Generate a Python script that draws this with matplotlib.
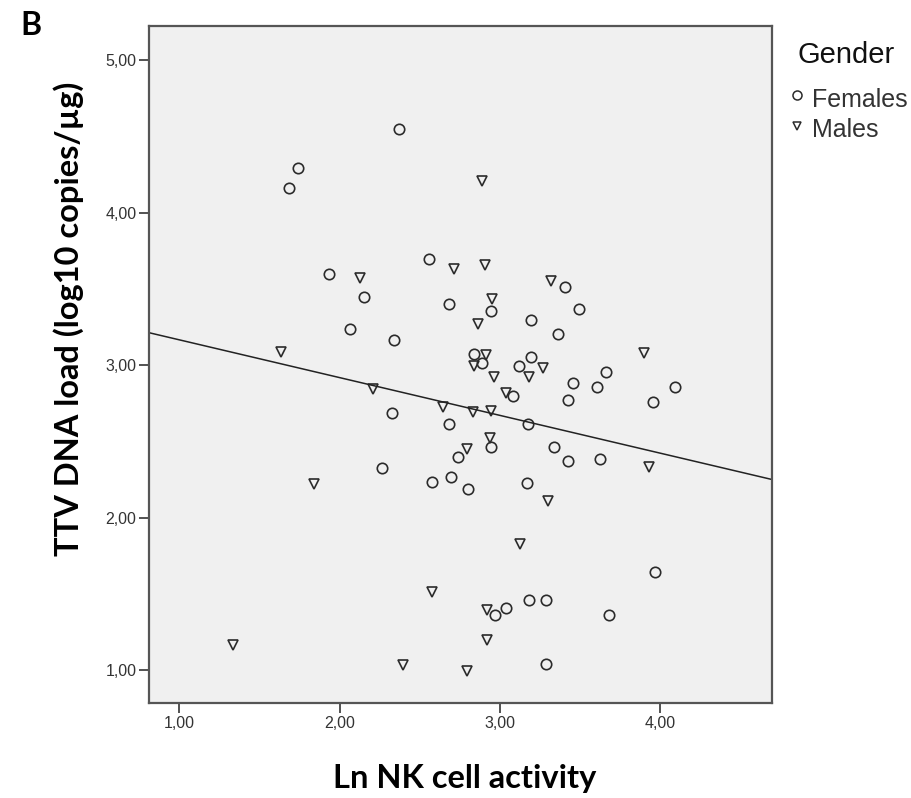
import matplotlib
matplotlib.use("Agg")
import matplotlib.pyplot as plt
from matplotlib.lines import Line2D

# Ln NK cell activity vs TTV DNA load
female_x = [2.373, 1.743, 1.687, 1.933, 2.153, 2.559, 2.684, 2.066, 2.342, 3.408,
            2.946, 3.497, 3.195, 3.366, 2.836, 2.888, 3.122, 3.195, 3.665, 4.094,
            3.459, 3.605, 3.085, 3.424, 3.959, 2.326, 2.682, 3.175, 2.946, 2.742,
            3.339, 3.428, 3.628, 2.263, 2.577, 2.694, 2.804, 3.169, 3.970, 3.181,
            3.289, 3.039, 2.969, 3.684, 3.287]
female_y = [4.548, 4.294, 4.163, 3.597, 3.449, 3.693, 3.400, 3.236, 3.166, 3.514,
            3.356, 3.365, 3.295, 3.201, 3.072, 3.015, 2.993, 3.050, 2.954, 2.856,
            2.880, 2.858, 2.797, 2.770, 2.755, 2.683, 2.611, 2.611, 2.464, 2.399,
            2.460, 2.372, 2.381, 2.323, 2.233, 2.268, 2.189, 2.224, 1.641, 1.459,
            1.459, 1.409, 1.361, 1.361, 1.037]

male_x = [2.128, 2.715, 2.908, 2.891, 3.320, 2.950, 2.867, 1.633, 2.914, 2.836,
          3.268, 3.903, 2.966, 3.185, 3.039, 2.207, 2.646, 2.831, 2.945, 2.940,
          2.794, 3.930, 1.841, 3.303, 3.129, 2.575, 2.919, 2.923, 1.337, 2.393,
          2.794]
male_y = [3.569, 3.633, 3.656, 4.207, 3.554, 3.434, 3.267, 3.083, 3.066, 2.993,
          2.978, 3.081, 2.923, 2.919, 2.818, 2.840, 2.725, 2.692, 2.700, 2.519,
          2.447, 2.329, 2.220, 2.108, 1.824, 1.513, 1.393, 1.197, 1.164, 1.035,
          0.993]

# fit line (total population)
fit_intercept = 3.413
fit_slope = -0.2476

x_ticks = [1, 2, 3, 4]
y_ticks = [1, 2, 3, 4, 5]

edge = "#2b2b2b"

fig = plt.figure(figsize=(9.12, 7.98), dpi=100)
ax = fig.add_axes([0.1634, 0.1190, 0.6828, 0.8484])
ax.set_facecolor("#f0f0f0")

ax.plot(female_x, female_y, linestyle="none", marker="o", markersize=7.5,
        markerfacecolor="none", markeredgecolor=edge, markeredgewidth=1.2)
ax.plot(male_x, male_y, linestyle="none", marker="v", markersize=6.5,
        markerfacecolor="none", markeredgecolor=edge, markeredgewidth=1.2)
ax.axline((0, fit_intercept), slope=fit_slope, color="#222222", linewidth=1.1)

ax.set_xlim(0.811, 4.697)
ax.set_ylim(0.784, 5.223)
ax.set_xticks(x_ticks)
ax.set_yticks(y_ticks)
ax.set_xticklabels([f"{v:.2f}".replace(".", ",") for v in x_ticks])
ax.set_yticklabels([f"{v:.2f}".replace(".", ",") for v in y_ticks])
ax.tick_params(direction="out", length=7, width=1.3, color="#444444",
               labelsize=11.5, labelcolor="#333333", pad=2)
for lab in ax.get_xticklabels() + ax.get_yticklabels():
    lab.set_family("Liberation Sans")
for sp in ax.spines.values():
    sp.set_color("#555555")
    sp.set_linewidth(1.6)

fig.text(0.5093, 0.012, "Ln NK cell activity", ha="center", va="baseline",
         fontsize=23.5, fontweight="bold", family="Lato")
fig.text(0.075, 0.601, "TTV DNA load (log10 copies/\u00b5g)", ha="center", va="center",
         rotation=90, fontsize=23.5, fontweight="bold", family="Lato")
fig.text(0.022, 0.956, "B", ha="left", va="baseline", fontsize=23,
         fontweight="bold", family="Lato")

# legend, placed by hand
fig.text(0.874, 0.9207, "Gender", ha="left", va="baseline", fontsize=21,
         family="Liberation Sans", color="#111111")
fig.add_artist(Line2D([0.8736], [0.881], transform=fig.transFigure, linestyle="none",
                      marker="o", markersize=6.5, markerfacecolor="none",
                      markeredgecolor=edge, markeredgewidth=1.1))
fig.add_artist(Line2D([0.8736], [0.842], transform=fig.transFigure, linestyle="none",
                      marker="v", markersize=6, markerfacecolor="none",
                      markeredgecolor=edge, markeredgewidth=1.1))
fig.text(0.8904, 0.8655, "Females", ha="left", va="baseline", fontsize=18,
         family="Liberation Sans", color="#333333")
fig.text(0.8904, 0.828, "Males", ha="left", va="baseline", fontsize=18,
         family="Liberation Sans", color="#333333")

fig.savefig("out.png", dpi=100)
